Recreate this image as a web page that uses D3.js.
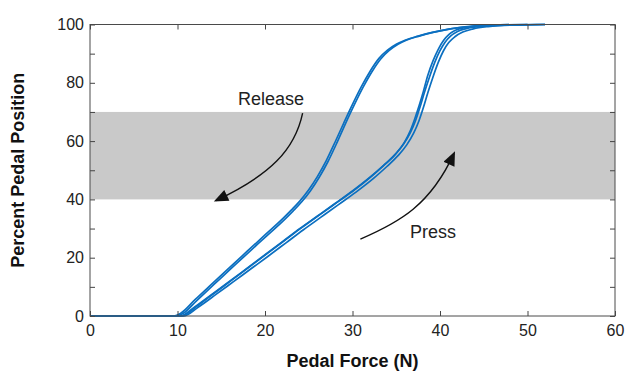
<!DOCTYPE html>
<html>
<head>
<meta charset="utf-8">
<script src="https://cdn.jsdelivr.net/npm/d3@7"></script>
<style>
  html, body { margin: 0; padding: 0; background: #fff; }
  svg { display: block; font-family: "Liberation Sans", Arial, sans-serif; }
</style>
</head>
<body>
<div id="chart"></div>
<script>
// Pedal force vs pedal position: press / release hysteresis traces

// ---- data: [force (N), position (%)] ----
const pressA = [[0,0],[10.3,0],[12,3.2],[14,7.6],[16,12],[18,16.5],[20,21],[22,25.5],[24,30],[26,34.3],[28,38.6],[30,42.9],[32,47.6],[33.5,51.5],[34.8,55.2],[35.8,58.8],[36.6,62.8],[37.2,67],[37.7,71.5],[38.2,76.5],[38.8,82],[39.4,87],[40,91],[40.6,94],[41.2,96],[42,97.6],[43,98.6],[45,99.4],[48,99.8],[52,100]];
const pressB = [[0,0],[10.7,0],[12.4,3.1],[14.4,7.4],[16.4,11.8],[18.4,16.2],[20.4,20.6],[22.4,25.1],[24.4,29.6],[26.4,33.9],[28.4,38.2],[30.4,42.5],[32.4,47.2],[33.9,51.2],[35.2,55],[36.2,58.7],[37,62.8],[37.6,67],[38.1,71.5],[38.6,76.5],[39.2,82],[39.8,87],[40.4,91],[41,93.8],[41.7,95.8],[42.6,97.4],[43.8,98.5],[45.5,99.3],[48,99.8],[52,100]];
const pressC = [[0,0],[10.5,0],[12.2,3.3],[14.2,7.8],[16.2,12.3],[18.2,16.8],[20.2,21.3],[22.2,25.8],[24.2,30.3],[26.2,34.6],[28.2,38.9],[30.2,43.2],[32.2,48],[33.7,52],[35,55.8],[35.9,59.4],[36.6,63.5],[37.1,67.5],[37.6,72],[38.1,77],[38.6,82.5],[39.2,87.5],[39.8,91.5],[40.4,94.5],[41,96.5],[41.7,97.9],[42.8,98.9],[45,99.5],[48,99.8],[52,100]];
const releaseA = [[0,0],[9.6,0],[10.4,1],[12,5.6],[14,11.2],[16,16.8],[18,22.3],[20,27.8],[22,33.3],[23,36.3],[24,39.5],[25,43.3],[26,47.9],[27,53.3],[28,59.6],[29,66.2],[30,72.6],[31,78.6],[32,83.9],[33,88.3],[34,91.2],[35,93.2],[36,94.6],[37.5,96],[39,97.2],[41,98.4],[43.8,99.4],[46,99.8],[50,100]];
const releaseB = [[0,0],[9.9,0],[10.7,1],[12.2,5.3],[14.2,10.9],[16.2,16.5],[18.2,22],[20.2,27.5],[22.2,33],[23.2,36],[24.2,39.2],[25.2,43],[26.2,47.6],[27.2,53],[28.2,59.3],[29.2,66],[30.2,72.4],[31.2,78.4],[32.2,83.7],[33.2,88.1],[34.2,91.1],[35.2,93.2],[36.2,94.7],[37.7,96.1],[39.2,97.3],[41.2,98.5],[44,99.5],[46,99.8],[50,100]];

const traces = [pressA, pressB, pressC, releaseA, releaseB];

const bandRange = [40, 70];
const xTicks = [0, 10, 20, 30, 40, 50, 60];
const yTicks = [0, 10, 20, 30, 40, 50, 60, 70, 80, 90, 100];

// annotation arrows in data units: start, control1, control2, end
const arrows = [
  { label: "Release", labelAt: [20.7, 74], pts: [[24.3, 69.6], [23.4, 56.9], [20.6, 48.4], [14.4, 39.6]] },
  { label: "Press",   labelAt: [39.2, 28.5], pts: [[30.9, 26.4], [35.4, 32.2], [38.9, 38.1], [41.6, 55.8]] }
];

// ---- layout ----
const W = 627, H = 372;
const margin = { top: 24.5, right: 12, bottom: 56, left: 90 };

const svg = d3.select("#chart").append("svg")
  .attr("width", W)
  .attr("height", H);

const x = d3.scaleLinear().domain([0, 60]).range([margin.left, W - margin.right]);
const y = d3.scaleLinear().domain([0, 100]).range([H - margin.bottom, margin.top]);

// gray band
svg.append("rect")
  .attr("x", x(0))
  .attr("y", y(bandRange[1]))
  .attr("width", x(60) - x(0))
  .attr("height", y(bandRange[0]) - y(bandRange[1]))
  .attr("fill", "#c9c9c9");

// traces
const line = d3.line()
  .x(d => x(d[0]))
  .y(d => y(d[1]))
  .curve(d3.curveMonotoneX);

svg.append("g")
  .selectAll("path")
  .data(traces)
  .join("path")
  .attr("d", line)
  .attr("fill", "none")
  .attr("stroke", "#0b6fc0")
  .attr("stroke-width", 1.7)
  .attr("stroke-linejoin", "round");

// axes (ticks point inward)
const tickColor = "#444";
const fmtY = d => (d % 20 === 0 ? d : "");

const gBottom = svg.append("g")
  .attr("transform", `translate(0,${y(0)})`)
  .call(d3.axisBottom(x).tickValues(xTicks).tickSizeInner(-5).tickSizeOuter(0).tickPadding(9));

const gLeft = svg.append("g")
  .attr("transform", `translate(${x(0)},0)`)
  .call(d3.axisLeft(y).tickValues(yTicks).tickFormat(fmtY).tickSizeInner(-5).tickSizeOuter(0).tickPadding(6));

const gTop = svg.append("g")
  .attr("transform", `translate(0,${y(100)})`)
  .call(d3.axisTop(x).tickValues(xTicks).tickFormat("").tickSizeInner(-5).tickSizeOuter(0));

const gRight = svg.append("g")
  .attr("transform", `translate(${x(60)},0)`)
  .call(d3.axisRight(y).tickValues(yTicks).tickFormat("").tickSizeInner(-5).tickSizeOuter(0));

[gBottom, gLeft, gTop, gRight].forEach(g => {
  g.select(".domain").remove();
  g.selectAll(".tick line").attr("stroke", tickColor);
  g.selectAll(".tick text")
    .attr("fill", "#222")
    .style("font-size", "16px")
    .style("font-family", "\"Liberation Sans\", Arial, sans-serif");
});

// frame
svg.append("rect")
  .attr("x", x(0))
  .attr("y", y(100))
  .attr("width", x(60) - x(0))
  .attr("height", y(0) - y(100))
  .attr("fill", "none")
  .attr("stroke", "#4a4a4a")
  .attr("stroke-width", 1);

// axis titles
svg.append("text")
  .attr("x", (x(0) + x(60)) / 2)
  .attr("y", 367)
  .attr("text-anchor", "middle")
  .style("font-size", "18px")
  .style("font-weight", "bold")
  .attr("fill", "#111")
  .text("Pedal Force (N)");

svg.append("text")
  .attr("transform", `translate(24,${(y(0) + y(100)) / 2}) rotate(-90)`)
  .attr("text-anchor", "middle")
  .style("font-size", "18px")
  .style("font-weight", "bold")
  .attr("fill", "#111")
  .text("Percent Pedal Position");

// arrows
svg.append("defs").append("marker")
  .attr("id", "head")
  .attr("viewBox", "0 0 12 10")
  .attr("refX", 10)
  .attr("refY", 5)
  .attr("markerWidth", 15)
  .attr("markerHeight", 12)
  .attr("markerUnits", "userSpaceOnUse")
  .attr("orient", "auto")
  .append("path")
  .attr("d", "M0,0 L12,5 L0,10 Z")
  .attr("fill", "#111");

arrows.forEach(a => {
  const p = a.pts.map(d => [x(d[0]), y(d[1])]);
  svg.append("path")
    .attr("d", `M${p[0]} C${p[1]} ${p[2]} ${p[3]}`)
    .attr("fill", "none")
    .attr("stroke", "#111")
    .attr("stroke-width", 1.4)
    .attr("marker-end", "url(#head)");

  svg.append("text")
    .attr("x", x(a.labelAt[0]))
    .attr("y", y(a.labelAt[1]))
    .attr("text-anchor", "middle")
    .attr("dominant-baseline", "middle")
    .style("font-size", "18px")
    .attr("fill", "#222")
    .text(a.label);
});
</script>
</body>
</html>
